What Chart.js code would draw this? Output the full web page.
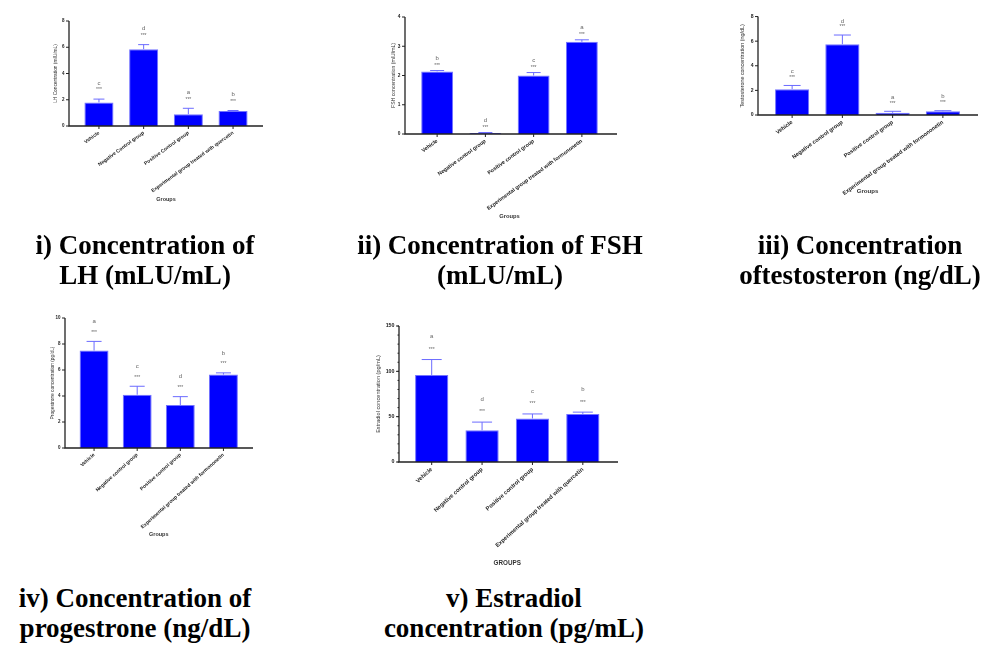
<!DOCTYPE html>
<html>
<head>
<meta charset="utf-8">
<script src="https://cdn.jsdelivr.net/npm/chart.js@4.4.1/dist/chart.umd.min.js"></script>
<style>
  html, body { margin: 0; padding: 0; background: #fff; width: 1006px; height: 646px; overflow: hidden; position: relative; }
  canvas { position: absolute; }
  .cap { position: absolute; width: 340px; text-align: center; font-family: "Liberation Serif", "Times New Roman", serif;
         font-weight: bold; font-size: 27px; line-height: 30px; color: #000; }
</style>
</head>
<body>
<canvas id="lh"></canvas>
<canvas id="fsh"></canvas>
<canvas id="testo"></canvas>
<canvas id="prog"></canvas>
<canvas id="e2"></canvas>

<div class="cap" style="left:-25px;top:230px">i) Concentration of<br>LH (mLU/mL)</div>
<div class="cap" style="left:330px;top:230px">ii) Concentration of FSH<br>(mLU/mL)</div>
<div class="cap" style="left:690px;top:230px">iii) Concentration<br>oftestosteron (ng/dL)</div>
<div class="cap" style="left:-35px;top:583px">iv) Concentration of<br>progestrone (ng/dL)</div>
<div class="cap" style="left:344px;top:583px">v) Estradiol<br>concentration (pg/mL)</div>

<script>
// ---- data ----
const lhGroups = ["Vehicle", "Negative Control group", "Positive Control group", "Experimental group treated with quercetin"];
const lhMean = [1.8, 5.85, 0.9, 1.15];
const lhSem = [0.25, 0.35, 0.45, 0.03];
const lhSig = ["c", "d", "a", "b"];

const fshGroups = ["Vehicle", "Negative control group", "Positive control group", "Experimental group treated with formononetin"];
const fshMean = [2.14, 0.03, 2.0, 3.15];
const fshSem = [0.03, 0.02, 0.1, 0.07];
const fshSig = ["b", "d", "c", "a"];

const testoGroups = ["Vehicle", "Negative control group", "Positive control group", "Experimental group treated with formononetin"];
const testoMean = [2.1, 5.75, 0.18, 0.3];
const testoSem = [0.3, 0.75, 0.12, 0.05];
const testoSig = ["c", "d", "a", "b"];

const progGroups = ["Vehicle", "Negative control group", "Positive control group", "Experimental group treated with formononetin"];
const progMean = [7.5, 4.1, 3.3, 5.65];
const progSem = [0.7, 0.65, 0.65, 0.13];
const progSig = ["a", "c", "d", "b"];

const e2Groups = ["Vehicle", "Negative control group", "Positive control group", "Experimental group treated with quercetin"];
const e2Mean = [96, 35, 48, 53];
const e2Sem = [17, 9, 5, 2];
const e2Sig = ["a", "d", "c", "b"];

// y axis ranges [max, step]
const lhAxis = [8, 2];
const fshAxis = [4, 1];
const testoAxis = [8, 2];
const progAxis = [10, 2];
const e2Axis = [150, 50];

// GraphPad-like axes, error bars and significance marks
const gpPlugin = {
  id: "gp",
  afterDatasetsDraw(chart, args, o) {
    const ctx = chart.ctx, a = chart.chartArea, y = chart.scales.y;
    const ds = chart.data.datasets[0];
    const meta = chart.getDatasetMeta(0);
    const ax = a.left - o.gapL, bottom = y.getPixelForValue(0);
    ctx.save();

    // error bars (upper only)
    ctx.strokeStyle = "#6b6bff";
    ctx.lineWidth = 1;
    ctx.fillStyle = "#666";
    ctx.textAlign = "center";
    ctx.textBaseline = "middle";
    meta.data.forEach((bar, i) => {
      const top = y.getPixelForValue(ds.data[i] + ds.sem[i]);
      ctx.beginPath();
      ctx.moveTo(bar.x, bar.y);
      ctx.lineTo(bar.x, top);
      ctx.moveTo(bar.x - o.cap / 2, top);
      ctx.lineTo(bar.x + o.cap / 2, top);
      ctx.stroke();
      ctx.font = "5px 'Liberation Sans', Arial";
      ctx.fillText("***", bar.x, top - o.starOff);
      ctx.font = "6px 'Liberation Sans', Arial";
      ctx.fillText(ds.sig[i], bar.x, top - o.letterOff);
    });

    // axis lines
    ctx.strokeStyle = "#222";
    ctx.lineWidth = 1.3;
    ctx.beginPath();
    ctx.moveTo(ax, y.getPixelForValue(y.max));
    ctx.lineTo(ax, bottom);
    ctx.lineTo(a.right + o.gapR, bottom);
    ctx.stroke();

    ctx.lineWidth = 1;
    ctx.beginPath();
    y.ticks.forEach(t => {
      const py = y.getPixelForValue(t.value);
      ctx.moveTo(ax - 3, py);
      ctx.lineTo(ax, py);
    });
    if (o.minor) {
      for (let v = 0; v <= y.max; v += o.minor) {
        const py = y.getPixelForValue(v);
        ctx.moveTo(ax - 1.5, py);
        ctx.lineTo(ax, py);
      }
    }
    meta.data.forEach(bar => {
      ctx.moveTo(bar.x, bottom);
      ctx.lineTo(bar.x, bottom + 3);
    });
    ctx.stroke();
    ctx.restore();
  }
};

function makePanel(id, groups, mean, sem, sig, axis, yTitle, xTitle, lay) {
  const cv = document.getElementById(id);
  cv.width = lay.w; cv.height = lay.h;
  cv.style.left = lay.left + "px";
  cv.style.top = lay.top + "px";
  new Chart(cv.getContext("2d"), {
    type: "bar",
    data: {
      labels: groups,
      datasets: [{
        data: mean,
        sem: sem,
        sig: sig,
        backgroundColor: "#0000ff",
        borderColor: "#7373ff",
        borderWidth: 1,
        barPercentage: lay.bar,
        categoryPercentage: 1
      }]
    },
    options: {
      responsive: false,
      animation: false,
      devicePixelRatio: 1,
      layout: { padding: lay.pad },
      plugins: {
        legend: { display: false },
        tooltip: { enabled: false },
        gp: { gapL: lay.gapL, gapR: lay.gapR, cap: lay.cap, starOff: lay.star, letterOff: lay.letter, minor: lay.minor }
      },
      scales: {
        x: {
          grid: { display: false, drawTicks: false },
          border: { display: false },
          ticks: {
            autoSkip: false, maxRotation: lay.rot, minRotation: lay.rot, padding: 4,
            color: "#222", font: { family: "'Liberation Sans', Arial", size: lay.fs, weight: "bold" }
          },
          title: {
            display: true, text: xTitle, padding: 0, color: "#333",
            font: { family: "'Liberation Sans', Arial", size: lay.fs + 0.5, weight: "bold" }
          },
          afterFit: s => { s.height = lay.xh; }
        },
        y: {
          min: 0, max: axis[0],
          grid: { display: false, drawTicks: false },
          border: { display: false },
          ticks: {
            stepSize: axis[1], padding: lay.gapL + 4.5,
            color: "#222", font: { family: "'Liberation Sans', Arial", size: lay.fs - 0.5, weight: "bold" }
          },
          title: {
            display: true, text: yTitle, padding: 0, color: "#333",
            font: { family: "'Liberation Sans', Arial", size: lay.fs - 0.2 }
          },
          afterFit: s => { s.width = lay.yw; }
        }
      }
    },
    plugins: [gpPlugin]
  });
}

makePanel("lh", lhGroups, lhMean, lhSem, lhSig, lhAxis, "LH Concentration (mIU/mL)", "Groups",
  { left: 20, top: 0, w: 260, h: 215, pad: { left: 33, top: 21, right: 24.6, bottom: 12 }, yw: 23.6, xh: 77,
    gapL: 7.6, gapR: 7.6, bar: 0.65, cap: 11, star: 9, letter: 16, rot: 36, fs: 5 });

makePanel("fsh", fshGroups, fshMean, fshSem, fshSig, fshAxis, "FSH concentration (mIU/mL)", "Groups",
  { left: 340, top: 0, w: 285, h: 225, pad: { left: 51, top: 17, right: 19, bottom: 5 }, yw: 22, xh: 86,
    gapL: 8, gapR: 11, bar: 0.66, cap: 14, star: 5, letter: 12.5, rot: 36, fs: 5.3 });

makePanel("testo", testoGroups, testoMean, testoSem, testoSig, testoAxis, "Testosterone concentration (ng/dL)", "Groups",
  { left: 700, top: 0, w: 306, h: 210, pad: { left: 39, top: 15, right: 38, bottom: 15 }, yw: 28, xh: 80,
    gapL: 9, gapR: 10, bar: 0.68, cap: 17, star: 8, letter: 14, rot: 36, fs: 5.6 });

makePanel("prog", progGroups, progMean, progSem, progSig, progAxis, "Progestrone concentration (pg/dL)", "Groups",
  { left: 20, top: 250, w: 260, h: 300, pad: { left: 30, top: 68, right: 35, bottom: 12 }, yw: 22.5, xh: 90,
    gapL: 7.5, gapR: 8, bar: 0.67, cap: 15, star: 9, letter: 20, rot: 42, fs: 5 });

makePanel("e2", e2Groups, e2Mean, e2Sem, e2Sig, e2Axis, "Estradiol concentration (pg/mL)", "GROUPS",
  { left: 340, top: 290, w: 290, h: 285, pad: { left: 35, top: 36, right: 22, bottom: 8 }, yw: 31.5, xh: 105,
    gapL: 7.5, gapR: 10, bar: 0.66, cap: 20, star: 10, letter: 23, rot: 42, minor: 10, fs: 5.8 });
</script>
</body>
</html>
